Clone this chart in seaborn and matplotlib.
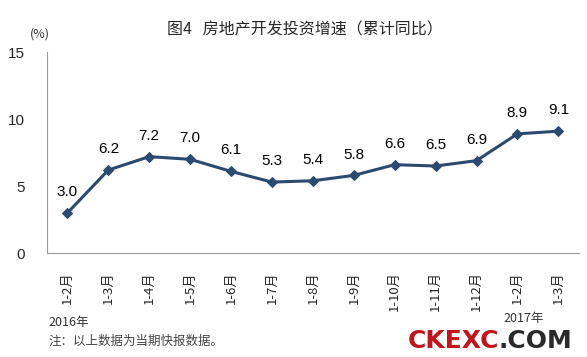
import matplotlib
matplotlib.use("Agg")
import matplotlib.pyplot as plt
import seaborn as sns
import pandas as pd

categories = ["1-2月", "1-3月", "1-4月", "1-5月", "1-6月", "1-7月", "1-8月",
              "1-9月", "1-10月", "1-11月", "1-12月", "1-2月", "1-3月"]
values = [3.0, 6.2, 7.2, 7.0, 6.1, 5.3, 5.4, 5.8, 6.6, 6.5, 6.9, 8.9, 9.1]
yticks = [0, 5, 10, 15]

sns.set_theme(style="white")
plt.rcParams['font.family'] = ['Noto Sans CJK SC', 'DejaVu Sans']

df = pd.DataFrame({"cat": range(len(values)), "val": values})

fig = plt.figure(figsize=(5.87, 3.57), dpi=100)
ax = fig.add_axes([0.080, 0.291, 0.906, 0.563])

color = "#2B4A6F"
sns.lineplot(data=df, x="cat", y="val", ax=ax, color=color, linewidth=2.2,
             marker="D", markersize=5.5, markeredgecolor=color, markerfacecolor=color)

for i, v in enumerate(values):
    ax.annotate(f"{v:.1f}", (i, v), xytext=(0, 10), textcoords="offset points",
                ha="center", va="bottom", fontsize=11, color="black",
                family=["Liberation Sans", "DejaVu Sans"])

ax.set_xlim(-0.5, len(values) - 0.5)
ax.set_ylim(0, 15)
ax.set_yticks(yticks)
ax.set_yticklabels([str(t) for t in yticks], fontsize=11, family=["Liberation Sans", "DejaVu Sans"])
ax.set_xticks([i - 0.5 for i in range(len(values) + 1)])
ax.set_xticklabels([])
ax.set_xticks(range(len(values)), minor=True)
ax.set_xticklabels(categories, minor=True, rotation=90, fontsize=9.5)
ax.tick_params(axis="x", which="major", direction="in", length=5, color="#888888", width=0.8)
ax.tick_params(axis="x", which="minor", length=0, pad=13)
ax.tick_params(axis="y", direction="in", length=4, color="#888888", pad=16, width=0.8)
ax.set_xlabel("")
ax.set_ylabel("")

for s in ["top", "right"]:
    ax.spines[s].set_visible(False)
for s in ["left", "bottom"]:
    ax.spines[s].set_color("#999999")
    ax.spines[s].set_linewidth(0.8)

fig.text(0.52, 0.915, "图4   房地产开发投资增速（累计同比）", ha="center", va="center", fontsize=11.5)
fig.text(0.068, 0.905, "(%)", ha="center", va="center", fontsize=9, color="#333333")
fig.text(0.082, 0.097, "2016年", ha="left", va="center", fontsize=9, color="#333333")
fig.text(0.858, 0.108, "2017年", ha="left", va="center", fontsize=9, color="#333333")
fig.text(0.082, 0.045, "注：以上数据为当期快报数据。", ha="left", va="center", fontsize=9, color="#444444")
fig.text(0.695, 0.045, "CKEXC", ha="left", va="center", fontsize=18, fontweight="bold",
         color="#C0151B", family=["DejaVu Sans"])
fig.text(0.85, 0.045, ".COM", ha="left", va="center", fontsize=18, fontweight="bold",
         color="#2A2A2A", family=["DejaVu Sans"])

fig.savefig("out.png", dpi=100)
